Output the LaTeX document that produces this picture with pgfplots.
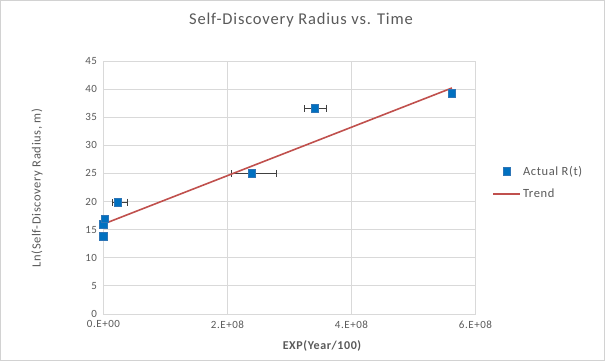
\documentclass[border=0pt]{standalone}
\usepackage{pgfplots}
\pgfplotsset{compat=1.18}
\usepackage{pgfplotstable}
\usepackage{fontspec}
\setmainfont{Carlito}[LetterSpace=5]
\definecolor{txt}{HTML}{595959}
\definecolor{gridc}{HTML}{D9D9D9}
\definecolor{mblue}{HTML}{0070C0}
\definecolor{mbord}{HTML}{2E75B6}
\definecolor{tred}{HTML}{C0504D}
\definecolor{errc}{HTML}{404040}
\pgfplotsset{trendleg/.style={legend image code/.code={\draw[##1] (0pt,0pt) -- (27pt,0pt);}},
  markleg/.style={legend image code/.code={\draw[mark repeat=2,mark phase=2,##1] plot coordinates {(0pt,0pt) (13.5pt,0pt) (27pt,0pt)};}}}
\pgfplotstableread{
x        y     ep       em
0.0e8    13.8  0.02e8   0.02e8
0.0e8    16.0  0.02e8   0.02e8
0.024e8  16.9  0.02e8   0.02e8
0.23e8   19.9  0.155e8  0.08e8
2.39e8   25.0  0.40e8   0.32e8
3.41e8   36.6  0.18e8   0.17e8
5.62e8   39.3  0.03e8   0.03e8
}\actual
\pgfplotstableread{
x      y
0      16.0
5.62e8 40.2
}\trend
\begin{document}
\begin{tikzpicture}
\useasboundingbox (0,0) rectangle (605pt,361pt);
\draw[gray!35] (0.5pt,0.5pt) rectangle (604.5pt,360.5pt);
\node[text=txt, font=\fontsize{16.5}{19}\selectfont] at (301pt,341pt) {Self-Discovery Radius vs. Time};
\node[text=txt, font=\fontsize{12.5}{15}\selectfont, rotate=90] at (37pt,173pt) {Ln(Self-Discovery Radius, m)};
\node[text=txt, font=\bfseries\fontsize{12}{14}\selectfont] at (322pt,15pt) {EXP(Year/100)};
\begin{axis}[
  at={(103.5pt,47pt)}, anchor=south west,
  scale only axis, width=372pt, height=253pt,
  xmin=0, xmax=6e8, ymin=0, ymax=45,
  scaled x ticks=false,
  xtick={0,2e8,4e8,6e8},
  xticklabels={0.E+00,2.E+08,4.E+08,6.E+08},
  ytick={0,5,...,45},
  grid=major,
  major grid style={gridc, line width=0.8pt},
  axis line style={gridc, line width=0.8pt},
  tick style={draw=none},
  ticklabel style={text=txt, font=\fontsize{11}{12}\selectfont},
  xticklabel style={yshift=-3pt},
  yticklabel style={xshift=-3pt},
  /pgf/number format/assume math mode=true,
  legend style={at={(1.045,0.52)}, anchor=west, draw=none, fill=none,
    font=\fontsize{12.5}{14}\selectfont, text=txt, row sep=8pt, inner sep=0pt},
  legend cell align=left,
  clip=false,
]
\addplot[only marks, mark=square*, mark size=3.8pt, markleg,
  mark options={fill=mblue, draw=mbord, line width=0.6pt},
  error bars/.cd, x dir=both, x explicit,
  error bar style={errc, line width=0.8pt},
  error mark options={rotate=90, mark size=3.5pt, errc, line width=0.8pt}]
  table[x=x, y=y, x error plus=ep, x error minus=em] {\actual};
\addlegendentry{Actual R(t)}
\addplot[tred, line width=1.6pt, no marks, trendleg] table[x=x,y=y] {\trend};
\addlegendentry{Trend}
\end{axis}
\end{tikzpicture}
\end{document}
